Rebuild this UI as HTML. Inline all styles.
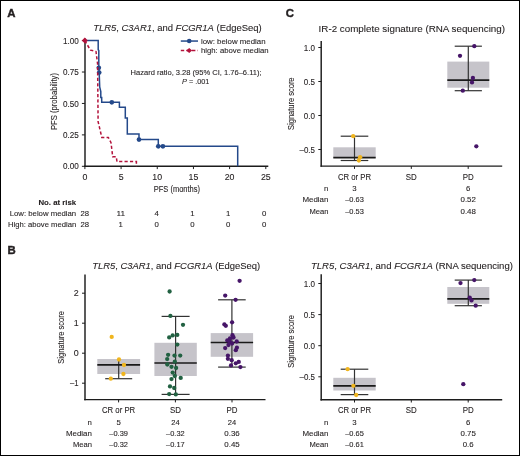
<!DOCTYPE html>
<html><head><meta charset="utf-8"><style>
html,body{margin:0;padding:0;background:#fff;}
body{width:520px;height:456px;overflow:hidden;position:relative;}
svg{display:block;position:absolute;left:0;top:0;will-change:transform;filter:blur(0.3px);}
.frame{position:absolute;left:0;top:0;width:518px;height:454px;border:1px solid #000;}
text{font-family:"Liberation Sans", sans-serif;fill:#231f20;stroke:#231f20;stroke-width:0.1px;}
</style></head><body>
<svg width="520" height="456" viewBox="0 0 520 456">
<rect x="0" y="0" width="520" height="456" fill="#fff"/>
<text x="7.2" y="16.6" font-size="11.4" font-weight="bold" fill="#000" stroke="#000" style="stroke-width:0.4px">A</text>
<text x="7.6" y="254.3" font-size="11.4" font-weight="bold" fill="#000" stroke="#000" style="stroke-width:0.4px">B</text>
<text x="285.8" y="17.2" font-size="11.4" font-weight="bold" fill="#000" stroke="#000" style="stroke-width:0.4px">C</text>
<text x="93.2" y="30.9" font-size="9.5" textLength="168.5" lengthAdjust="spacingAndGlyphs"><tspan font-style="italic">TLR5</tspan>, <tspan font-style="italic">C3AR1</tspan>, and <tspan font-style="italic">FCGR1A</tspan> (EdgeSeq)</text>
<line x1="85.0" y1="38.6" x2="85.0" y2="167.0" stroke="#1c1c1c" stroke-width="1.45"/>
<line x1="84.10000000000001" y1="166.3" x2="268.3" y2="166.3" stroke="#1c1c1c" stroke-width="1.4"/>
<line x1="81.9" y1="166.3" x2="84.9" y2="166.3" stroke="#1c1c1c" stroke-width="1.0"/>
<text x="78.9" y="169.4" font-size="8.9" text-anchor="end" textLength="15.8" lengthAdjust="spacingAndGlyphs">0.00</text>
<line x1="81.9" y1="134.875" x2="84.9" y2="134.875" stroke="#1c1c1c" stroke-width="1.0"/>
<text x="78.9" y="137.975" font-size="8.9" text-anchor="end" textLength="15.8" lengthAdjust="spacingAndGlyphs">0.25</text>
<line x1="81.9" y1="103.45000000000002" x2="84.9" y2="103.45000000000002" stroke="#1c1c1c" stroke-width="1.0"/>
<text x="78.9" y="106.55000000000001" font-size="8.9" text-anchor="end" textLength="15.8" lengthAdjust="spacingAndGlyphs">0.50</text>
<line x1="81.9" y1="72.025" x2="84.9" y2="72.025" stroke="#1c1c1c" stroke-width="1.0"/>
<text x="78.9" y="75.125" font-size="8.9" text-anchor="end" textLength="15.8" lengthAdjust="spacingAndGlyphs">0.75</text>
<line x1="81.9" y1="40.60000000000001" x2="84.9" y2="40.60000000000001" stroke="#1c1c1c" stroke-width="1.0"/>
<text x="78.9" y="43.70000000000001" font-size="8.9" text-anchor="end" textLength="15.8" lengthAdjust="spacingAndGlyphs">1.00</text>
<line x1="84.9" y1="166.3" x2="84.9" y2="169.10000000000002" stroke="#1c1c1c" stroke-width="1.0"/>
<text x="84.9" y="179.6" font-size="8.9" text-anchor="middle" textLength="4.9" lengthAdjust="spacingAndGlyphs">0</text>
<line x1="121.08000000000001" y1="166.3" x2="121.08000000000001" y2="169.10000000000002" stroke="#1c1c1c" stroke-width="1.0"/>
<text x="121.08000000000001" y="179.6" font-size="8.9" text-anchor="middle" textLength="4.9" lengthAdjust="spacingAndGlyphs">5</text>
<line x1="157.26" y1="166.3" x2="157.26" y2="169.10000000000002" stroke="#1c1c1c" stroke-width="1.0"/>
<text x="157.26" y="179.6" font-size="8.9" text-anchor="middle" textLength="9.8" lengthAdjust="spacingAndGlyphs">10</text>
<line x1="193.44" y1="166.3" x2="193.44" y2="169.10000000000002" stroke="#1c1c1c" stroke-width="1.0"/>
<text x="193.44" y="179.6" font-size="8.9" text-anchor="middle" textLength="9.8" lengthAdjust="spacingAndGlyphs">15</text>
<line x1="229.62" y1="166.3" x2="229.62" y2="169.10000000000002" stroke="#1c1c1c" stroke-width="1.0"/>
<text x="229.62" y="179.6" font-size="8.9" text-anchor="middle" textLength="9.8" lengthAdjust="spacingAndGlyphs">20</text>
<line x1="265.8" y1="166.3" x2="265.8" y2="169.10000000000002" stroke="#1c1c1c" stroke-width="1.0"/>
<text x="265.8" y="179.6" font-size="8.9" text-anchor="middle" textLength="9.8" lengthAdjust="spacingAndGlyphs">25</text>
<text x="153.8" y="192" font-size="8.8" textLength="46.2" lengthAdjust="spacingAndGlyphs">PFS (months)</text>
<text x="0" y="0" font-size="8.9" textLength="57" lengthAdjust="spacingAndGlyphs" transform="translate(57.0,130.0) rotate(-90)">PFS (probability)</text>
<path d="M84.80,40.60 L98.20,40.60 L98.20,49.80 L98.80,50.50 L98.80,67.80 L99.20,72.60 L99.70,86.80 L100.80,91.50 L100.80,97.50 L101.70,97.50 L101.70,102.30 L119.40,102.30 L119.40,107.20 L125.30,107.20 L125.30,118.00 L127.30,118.00 L127.30,133.90 L139.00,133.90 L139.00,139.60 L158.30,139.60 L158.30,146.30 L237.70,146.30 L237.70,166.30" fill="none" stroke="#24498a" stroke-width="1.5"/>
<circle cx="98.8" cy="67.8" r="2.35" fill="#24498a"/>
<circle cx="99.2" cy="72.6" r="2.35" fill="#24498a"/>
<circle cx="111.8" cy="102.3" r="2.35" fill="#24498a"/>
<circle cx="139" cy="139.6" r="2.35" fill="#24498a"/>
<circle cx="158.3" cy="146.3" r="2.35" fill="#24498a"/>
<circle cx="162.9" cy="146.3" r="2.35" fill="#24498a"/>
<path d="M84.80,40.60 L90.50,50.20 L96.00,51.50 L97.60,64.00 L98.10,121.60 L101.80,137.40 L108.30,137.40 L111.00,142.60 L112.70,156.70 L116.20,156.70 L117.00,161.60 L136.40,161.60 L136.40,166.30" fill="none" stroke="#b3123b" stroke-width="1.5" stroke-dasharray="3.2,2.2"/>
<path d="M81.8,40.6 L84.8,37.6 L87.8,40.6 L84.8,43.6 Z" fill="#b3123b"/>
<line x1="180.8" y1="41.05" x2="198" y2="41.05" stroke="#24498a" stroke-width="1.5"/>
<circle cx="189.2" cy="41.05" r="2.3" fill="#24498a"/>
<line x1="180.8" y1="50.6" x2="198" y2="50.6" stroke="#b3123b" stroke-width="1.5" stroke-dasharray="3.4,2.2"/>
<path d="M186.2,50.6 L189.2,48.1 L192.2,50.6 L189.2,53.1 Z" fill="#b3123b"/>
<text x="201.0" y="43.5" font-size="8.0" textLength="64.5" lengthAdjust="spacingAndGlyphs">low: below median</text>
<text x="201.0" y="53.1" font-size="8.0" textLength="67.5" lengthAdjust="spacingAndGlyphs">high: above median</text>
<text x="130.6" y="75.1" font-size="8.0" textLength="131" lengthAdjust="spacingAndGlyphs">Hazard ratio, 3.28 (95% CI, 1.76–6.11);</text>
<text x="182.0" y="83.6" font-size="8.0" textLength="27.4" lengthAdjust="spacingAndGlyphs"><tspan font-style="italic">P</tspan> = .001</text>
<text x="76.2" y="204.6" font-size="8.0" text-anchor="end" font-weight="bold" textLength="37.8" lengthAdjust="spacingAndGlyphs">No. at risk</text>
<text x="76.2" y="215.9" font-size="7.8" text-anchor="end" textLength="66.5" lengthAdjust="spacingAndGlyphs">Low: below median</text>
<text x="76.2" y="227.1" font-size="7.8" text-anchor="end" textLength="68.2" lengthAdjust="spacingAndGlyphs">High: above median</text>
<text x="84.85" y="215.9" font-size="7.8" text-anchor="middle" textLength="8.6" lengthAdjust="spacingAndGlyphs">28</text>
<text x="120.69999999999999" y="215.9" font-size="7.8" text-anchor="middle" textLength="8.6" lengthAdjust="spacingAndGlyphs">11</text>
<text x="156.55" y="215.9" font-size="7.8" text-anchor="middle">4</text>
<text x="192.4" y="215.9" font-size="7.8" text-anchor="middle">1</text>
<text x="228.25" y="215.9" font-size="7.8" text-anchor="middle">1</text>
<text x="264.1" y="215.9" font-size="7.8" text-anchor="middle">0</text>
<text x="84.85" y="227.1" font-size="7.8" text-anchor="middle" textLength="8.6" lengthAdjust="spacingAndGlyphs">28</text>
<text x="120.69999999999999" y="227.1" font-size="7.8" text-anchor="middle">1</text>
<text x="156.55" y="227.1" font-size="7.8" text-anchor="middle">0</text>
<text x="192.4" y="227.1" font-size="7.8" text-anchor="middle">0</text>
<text x="228.25" y="227.1" font-size="7.8" text-anchor="middle">0</text>
<text x="264.1" y="227.1" font-size="7.8" text-anchor="middle">0</text>
<text x="92.2" y="269.2" font-size="9.5" textLength="168" lengthAdjust="spacingAndGlyphs"><tspan font-style="italic">TLR5</tspan>, <tspan font-style="italic">C3AR1</tspan>, and <tspan font-style="italic">FCGR1A</tspan> (EdgeSeq)</text>
<line x1="85.0" y1="274.6" x2="85.0" y2="400.3" stroke="#1c1c1c" stroke-width="1.45"/>
<line x1="84.2" y1="399.6" x2="265.5" y2="399.6" stroke="#1c1c1c" stroke-width="1.4"/>
<line x1="82.0" y1="293.2" x2="85.0" y2="293.2" stroke="#1c1c1c" stroke-width="1.0"/>
<text x="78.6" y="296.3" font-size="8.9" text-anchor="end">2</text>
<line x1="82.0" y1="323.2" x2="85.0" y2="323.2" stroke="#1c1c1c" stroke-width="1.0"/>
<text x="78.6" y="326.3" font-size="8.9" text-anchor="end">1</text>
<line x1="82.0" y1="353.2" x2="85.0" y2="353.2" stroke="#1c1c1c" stroke-width="1.0"/>
<text x="78.6" y="356.3" font-size="8.9" text-anchor="end">0</text>
<line x1="82.0" y1="383.2" x2="85.0" y2="383.2" stroke="#1c1c1c" stroke-width="1.0"/>
<text x="78.6" y="386.3" font-size="8.9" text-anchor="end" textLength="8.6" lengthAdjust="spacingAndGlyphs">–1</text>
<text x="0" y="0" font-size="8.9" textLength="52.5" lengthAdjust="spacingAndGlyphs" transform="translate(64.0,337.4) rotate(-90)" text-anchor="middle">Signature score</text>
<line x1="118.6" y1="399.6" x2="118.6" y2="402.4" stroke="#1c1c1c" stroke-width="1.0"/>
<text x="118.6" y="413.1" font-size="8.4" text-anchor="middle" textLength="33.2" lengthAdjust="spacingAndGlyphs">CR or PR</text>
<line x1="175.4" y1="399.6" x2="175.4" y2="402.4" stroke="#1c1c1c" stroke-width="1.0"/>
<text x="175.4" y="413.1" font-size="8.4" text-anchor="middle" textLength="11" lengthAdjust="spacingAndGlyphs">SD</text>
<line x1="232.0" y1="399.6" x2="232.0" y2="402.4" stroke="#1c1c1c" stroke-width="1.0"/>
<text x="232.0" y="413.1" font-size="8.4" text-anchor="middle" textLength="11" lengthAdjust="spacingAndGlyphs">PD</text>
<text x="91.9" y="424.6" font-size="7.8" text-anchor="end">n</text>
<text x="91.9" y="435.9" font-size="7.8" text-anchor="end" textLength="26" lengthAdjust="spacingAndGlyphs">Median</text>
<text x="91.9" y="446.8" font-size="7.8" text-anchor="end" textLength="19" lengthAdjust="spacingAndGlyphs">Mean</text>
<text x="118.6" y="424.6" font-size="7.8" text-anchor="middle">5</text>
<text x="175.4" y="424.6" font-size="7.8" text-anchor="middle" textLength="8.4" lengthAdjust="spacingAndGlyphs">24</text>
<text x="232.0" y="424.6" font-size="7.8" text-anchor="middle" textLength="8.4" lengthAdjust="spacingAndGlyphs">24</text>
<text x="118.6" y="435.9" font-size="7.8" text-anchor="middle" textLength="18.6" lengthAdjust="spacingAndGlyphs">–0.39</text>
<text x="175.4" y="435.9" font-size="7.8" text-anchor="middle" textLength="18.6" lengthAdjust="spacingAndGlyphs">–0.32</text>
<text x="232.0" y="435.9" font-size="7.8" text-anchor="middle" textLength="15.4" lengthAdjust="spacingAndGlyphs">0.36</text>
<text x="118.6" y="446.8" font-size="7.8" text-anchor="middle" textLength="18.6" lengthAdjust="spacingAndGlyphs">–0.32</text>
<text x="175.4" y="446.8" font-size="7.8" text-anchor="middle" textLength="18.6" lengthAdjust="spacingAndGlyphs">–0.17</text>
<text x="232.0" y="446.8" font-size="7.8" text-anchor="middle" textLength="15.4" lengthAdjust="spacingAndGlyphs">0.45</text>
<rect x="97.30000000000001" y="359" width="42.8" height="15" fill="#c6c4ca"/>
<line x1="118.7" y1="359" x2="118.7" y2="378.7" stroke="#333333" stroke-width="1.2"/>
<line x1="105.2" y1="378.7" x2="132.2" y2="378.7" stroke="#333333" stroke-width="1.2"/>
<line x1="97.30000000000001" y1="364.8" x2="140.1" y2="364.8" stroke="#1a1a1a" stroke-width="1.7"/>
<circle cx="111.7" cy="336.9" r="2.15" fill="#f0b51e"/>
<circle cx="119" cy="359.5" r="2.15" fill="#f0b51e"/>
<circle cx="124" cy="365" r="2.15" fill="#f0b51e"/>
<circle cx="123.4" cy="374" r="2.15" fill="#f0b51e"/>
<circle cx="110.8" cy="378.7" r="2.15" fill="#f0b51e"/>
<rect x="154.4" y="342.8" width="42.4" height="33.19999999999999" fill="#c6c4ca"/>
<line x1="175.6" y1="316.4" x2="175.6" y2="394.4" stroke="#333333" stroke-width="1.2"/>
<line x1="161.6" y1="316.4" x2="189.6" y2="316.4" stroke="#333333" stroke-width="1.2"/>
<line x1="161.6" y1="394.4" x2="189.6" y2="394.4" stroke="#333333" stroke-width="1.2"/>
<line x1="154.4" y1="363" x2="196.79999999999998" y2="363" stroke="#1a1a1a" stroke-width="1.7"/>
<circle cx="169.6" cy="291.5" r="2.15" fill="#226142"/>
<circle cx="170.4" cy="315.9" r="2.15" fill="#226142"/>
<circle cx="183" cy="324.8" r="2.15" fill="#226142"/>
<circle cx="169.2" cy="337.4" r="2.15" fill="#226142"/>
<circle cx="172.7" cy="335.4" r="2.15" fill="#226142"/>
<circle cx="177.3" cy="334.9" r="2.15" fill="#226142"/>
<circle cx="177.3" cy="344.6" r="2.15" fill="#226142"/>
<circle cx="168.1" cy="354.8" r="2.15" fill="#226142"/>
<circle cx="174.5" cy="355.6" r="2.15" fill="#226142"/>
<circle cx="180.2" cy="355.6" r="2.15" fill="#226142"/>
<circle cx="167.2" cy="359.1" r="2.15" fill="#226142"/>
<circle cx="174.8" cy="361.7" r="2.15" fill="#226142"/>
<circle cx="167.3" cy="364.5" r="2.15" fill="#226142"/>
<circle cx="171.5" cy="366.8" r="2.15" fill="#226142"/>
<circle cx="176.1" cy="368" r="2.15" fill="#226142"/>
<circle cx="172.7" cy="372.6" r="2.15" fill="#226142"/>
<circle cx="174.8" cy="376" r="2.15" fill="#226142"/>
<circle cx="180.7" cy="377.9" r="2.15" fill="#226142"/>
<circle cx="171.5" cy="379.1" r="2.15" fill="#226142"/>
<circle cx="170" cy="386.4" r="2.15" fill="#226142"/>
<circle cx="174.2" cy="388" r="2.15" fill="#226142"/>
<circle cx="169.2" cy="394.1" r="2.15" fill="#226142"/>
<circle cx="175.8" cy="394.4" r="2.15" fill="#226142"/>
<rect x="210.70000000000002" y="333.1" width="42.4" height="23.69999999999999" fill="#c6c4ca"/>
<line x1="231.9" y1="299.8" x2="231.9" y2="367.1" stroke="#333333" stroke-width="1.2"/>
<line x1="218.1" y1="299.8" x2="245.70000000000002" y2="299.8" stroke="#333333" stroke-width="1.2"/>
<line x1="218.1" y1="367.1" x2="245.70000000000002" y2="367.1" stroke="#333333" stroke-width="1.2"/>
<line x1="210.70000000000002" y1="342.5" x2="253.1" y2="342.5" stroke="#1a1a1a" stroke-width="1.7"/>
<circle cx="239.6" cy="280.8" r="2.15" fill="#461568"/>
<circle cx="225.2" cy="295.6" r="2.15" fill="#461568"/>
<circle cx="235.6" cy="299.8" r="2.15" fill="#461568"/>
<circle cx="232.1" cy="322.3" r="2.15" fill="#461568"/>
<circle cx="224.4" cy="324.4" r="2.15" fill="#461568"/>
<circle cx="225.8" cy="325.8" r="2.15" fill="#461568"/>
<circle cx="232.5" cy="335.2" r="2.15" fill="#461568"/>
<circle cx="230" cy="338.3" r="2.15" fill="#461568"/>
<circle cx="227.3" cy="340.4" r="2.15" fill="#461568"/>
<circle cx="229.6" cy="341.5" r="2.15" fill="#461568"/>
<circle cx="236.7" cy="341.5" r="2.15" fill="#461568"/>
<circle cx="232.1" cy="343.5" r="2.15" fill="#461568"/>
<circle cx="225.2" cy="348.1" r="2.15" fill="#461568"/>
<circle cx="236.9" cy="347.7" r="2.15" fill="#461568"/>
<circle cx="235.8" cy="350.2" r="2.15" fill="#461568"/>
<circle cx="227.9" cy="355.6" r="2.15" fill="#461568"/>
<circle cx="227.9" cy="358.8" r="2.15" fill="#461568"/>
<circle cx="231.7" cy="360.2" r="2.15" fill="#461568"/>
<circle cx="235.8" cy="363.3" r="2.15" fill="#461568"/>
<circle cx="238.75" cy="361.9" r="2.15" fill="#461568"/>
<circle cx="231" cy="365.4" r="2.15" fill="#461568"/>
<circle cx="240.4" cy="367.1" r="2.15" fill="#461568"/>
<circle cx="233.5" cy="337.5" r="2.15" fill="#461568"/>
<circle cx="228.5" cy="345" r="2.15" fill="#461568"/>
<text x="318.6" y="31.7" font-size="9.5" textLength="186.4" lengthAdjust="spacingAndGlyphs">IR-2 complete signature (RNA sequencing)</text>
<line x1="321.2" y1="41" x2="321.2" y2="166.8" stroke="#1c1c1c" stroke-width="1.45"/>
<line x1="320.5" y1="166.1" x2="502.2" y2="166.1" stroke="#1c1c1c" stroke-width="1.4"/>
<line x1="318.3" y1="47.5" x2="321.3" y2="47.5" stroke="#1c1c1c" stroke-width="1.0"/>
<text x="314.9" y="50.6" font-size="8.9" text-anchor="end" textLength="11.2" lengthAdjust="spacingAndGlyphs">1.0</text>
<line x1="318.3" y1="81.5" x2="321.3" y2="81.5" stroke="#1c1c1c" stroke-width="1.0"/>
<text x="314.9" y="84.6" font-size="8.9" text-anchor="end" textLength="11.2" lengthAdjust="spacingAndGlyphs">0.5</text>
<line x1="318.3" y1="115.5" x2="321.3" y2="115.5" stroke="#1c1c1c" stroke-width="1.0"/>
<text x="314.9" y="118.6" font-size="8.9" text-anchor="end" textLength="11.2" lengthAdjust="spacingAndGlyphs">0.0</text>
<line x1="318.3" y1="149.5" x2="321.3" y2="149.5" stroke="#1c1c1c" stroke-width="1.0"/>
<text x="314.9" y="152.6" font-size="8.9" text-anchor="end" textLength="15.4" lengthAdjust="spacingAndGlyphs">–0.5</text>
<text x="0" y="0" font-size="8.9" textLength="52.5" lengthAdjust="spacingAndGlyphs" transform="translate(293.9,103.7) rotate(-90)" text-anchor="middle">Signature score</text>
<line x1="354.5" y1="166.1" x2="354.5" y2="168.9" stroke="#1c1c1c" stroke-width="1.0"/>
<text x="354.5" y="179.6" font-size="8.4" text-anchor="middle" textLength="33.2" lengthAdjust="spacingAndGlyphs">CR or PR</text>
<line x1="411.3" y1="166.1" x2="411.3" y2="168.9" stroke="#1c1c1c" stroke-width="1.0"/>
<text x="411.3" y="179.6" font-size="8.4" text-anchor="middle" textLength="11" lengthAdjust="spacingAndGlyphs">SD</text>
<line x1="468.2" y1="166.1" x2="468.2" y2="168.9" stroke="#1c1c1c" stroke-width="1.0"/>
<text x="468.2" y="179.6" font-size="8.4" text-anchor="middle" textLength="11" lengthAdjust="spacingAndGlyphs">PD</text>
<text x="328.4" y="191.1" font-size="7.8" text-anchor="end">n</text>
<text x="328.4" y="202.3" font-size="7.8" text-anchor="end" textLength="26" lengthAdjust="spacingAndGlyphs">Median</text>
<text x="328.4" y="213.5" font-size="7.8" text-anchor="end" textLength="19" lengthAdjust="spacingAndGlyphs">Mean</text>
<text x="354.5" y="191.1" font-size="7.8" text-anchor="middle">3</text>
<text x="468.2" y="191.1" font-size="7.8" text-anchor="middle">6</text>
<text x="354.5" y="202.3" font-size="7.8" text-anchor="middle" textLength="18.6" lengthAdjust="spacingAndGlyphs">–0.63</text>
<text x="468.2" y="202.3" font-size="7.8" text-anchor="middle" textLength="15.4" lengthAdjust="spacingAndGlyphs">0.52</text>
<text x="354.5" y="213.5" font-size="7.8" text-anchor="middle" textLength="18.6" lengthAdjust="spacingAndGlyphs">–0.53</text>
<text x="468.2" y="213.5" font-size="7.8" text-anchor="middle" textLength="15.4" lengthAdjust="spacingAndGlyphs">0.48</text>
<rect x="333.3" y="147.3" width="42.4" height="10.399999999999977" fill="#c6c4ca"/>
<line x1="354.5" y1="136.2" x2="354.5" y2="160.5" stroke="#333333" stroke-width="1.2"/>
<line x1="340.7" y1="136.2" x2="368.3" y2="136.2" stroke="#333333" stroke-width="1.2"/>
<line x1="340.7" y1="160.5" x2="368.3" y2="160.5" stroke="#333333" stroke-width="1.2"/>
<line x1="333.3" y1="157.7" x2="375.7" y2="157.7" stroke="#1a1a1a" stroke-width="1.7"/>
<circle cx="353.2" cy="136.2" r="2.15" fill="#f0b51e"/>
<circle cx="360.1" cy="157.2" r="2.15" fill="#f0b51e"/>
<circle cx="358.9" cy="160.5" r="2.15" fill="#f0b51e"/>
<rect x="447.3" y="61.6" width="42" height="26.1" fill="#c6c4ca"/>
<line x1="468.3" y1="46.2" x2="468.3" y2="90.7" stroke="#333333" stroke-width="1.2"/>
<line x1="454.7" y1="46.2" x2="481.90000000000003" y2="46.2" stroke="#333333" stroke-width="1.2"/>
<line x1="454.7" y1="90.7" x2="481.90000000000003" y2="90.7" stroke="#333333" stroke-width="1.2"/>
<line x1="447.3" y1="80.1" x2="489.3" y2="80.1" stroke="#1a1a1a" stroke-width="1.7"/>
<circle cx="474.3" cy="46.2" r="2.15" fill="#461568"/>
<circle cx="460" cy="55.8" r="2.15" fill="#461568"/>
<circle cx="472.9" cy="78" r="2.15" fill="#461568"/>
<circle cx="472" cy="82.4" r="2.15" fill="#461568"/>
<circle cx="462.8" cy="90.7" r="2.15" fill="#461568"/>
<circle cx="476.3" cy="146.3" r="2.15" fill="#461568"/>
<text x="310.9" y="268.7" font-size="9.5" textLength="202" lengthAdjust="spacingAndGlyphs"><tspan font-style="italic">TLR5</tspan>, <tspan font-style="italic">C3AR1</tspan>, and <tspan font-style="italic">FCGR1A</tspan> (RNA sequencing)</text>
<line x1="321.2" y1="274.2" x2="321.2" y2="400.4" stroke="#1c1c1c" stroke-width="1.45"/>
<line x1="320.5" y1="399.7" x2="502.2" y2="399.7" stroke="#1c1c1c" stroke-width="1.4"/>
<line x1="318.3" y1="283.5" x2="321.3" y2="283.5" stroke="#1c1c1c" stroke-width="1.0"/>
<text x="314.9" y="286.6" font-size="8.9" text-anchor="end" textLength="11.2" lengthAdjust="spacingAndGlyphs">1.0</text>
<line x1="318.3" y1="314.59999999999997" x2="321.3" y2="314.59999999999997" stroke="#1c1c1c" stroke-width="1.0"/>
<text x="314.9" y="317.7" font-size="8.9" text-anchor="end" textLength="11.2" lengthAdjust="spacingAndGlyphs">0.5</text>
<line x1="318.3" y1="345.7" x2="321.3" y2="345.7" stroke="#1c1c1c" stroke-width="1.0"/>
<text x="314.9" y="348.8" font-size="8.9" text-anchor="end" textLength="11.2" lengthAdjust="spacingAndGlyphs">0.0</text>
<line x1="318.3" y1="376.8" x2="321.3" y2="376.8" stroke="#1c1c1c" stroke-width="1.0"/>
<text x="314.9" y="379.90000000000003" font-size="8.9" text-anchor="end" textLength="15.4" lengthAdjust="spacingAndGlyphs">–0.5</text>
<text x="0" y="0" font-size="8.9" textLength="52.5" lengthAdjust="spacingAndGlyphs" transform="translate(293.9,341.4) rotate(-90)" text-anchor="middle">Signature score</text>
<line x1="354.5" y1="399.7" x2="354.5" y2="402.5" stroke="#1c1c1c" stroke-width="1.0"/>
<text x="354.5" y="413.1" font-size="8.4" text-anchor="middle" textLength="33.2" lengthAdjust="spacingAndGlyphs">CR or PR</text>
<line x1="411.3" y1="399.7" x2="411.3" y2="402.5" stroke="#1c1c1c" stroke-width="1.0"/>
<text x="411.3" y="413.1" font-size="8.4" text-anchor="middle" textLength="11" lengthAdjust="spacingAndGlyphs">SD</text>
<line x1="468.2" y1="399.7" x2="468.2" y2="402.5" stroke="#1c1c1c" stroke-width="1.0"/>
<text x="468.2" y="413.1" font-size="8.4" text-anchor="middle" textLength="11" lengthAdjust="spacingAndGlyphs">PD</text>
<text x="328.4" y="424.6" font-size="7.8" text-anchor="end">n</text>
<text x="328.4" y="435.7" font-size="7.8" text-anchor="end" textLength="26" lengthAdjust="spacingAndGlyphs">Median</text>
<text x="328.4" y="446.6" font-size="7.8" text-anchor="end" textLength="19" lengthAdjust="spacingAndGlyphs">Mean</text>
<text x="354.5" y="424.6" font-size="7.8" text-anchor="middle">3</text>
<text x="468.2" y="424.6" font-size="7.8" text-anchor="middle">6</text>
<text x="354.5" y="435.7" font-size="7.8" text-anchor="middle" textLength="18.6" lengthAdjust="spacingAndGlyphs">–0.65</text>
<text x="468.2" y="435.7" font-size="7.8" text-anchor="middle" textLength="15.4" lengthAdjust="spacingAndGlyphs">0.75</text>
<text x="354.5" y="446.6" font-size="7.8" text-anchor="middle" textLength="18.6" lengthAdjust="spacingAndGlyphs">–0.61</text>
<text x="468.2" y="446.6" font-size="7.8" text-anchor="middle">0.6</text>
<rect x="333.3" y="377.8" width="42.4" height="12.699999999999989" fill="#c6c4ca"/>
<line x1="354.5" y1="369.2" x2="354.5" y2="394.6" stroke="#333333" stroke-width="1.2"/>
<line x1="340.7" y1="369.2" x2="368.3" y2="369.2" stroke="#333333" stroke-width="1.2"/>
<line x1="340.7" y1="394.6" x2="368.3" y2="394.6" stroke="#333333" stroke-width="1.2"/>
<line x1="333.3" y1="385.8" x2="375.7" y2="385.8" stroke="#1a1a1a" stroke-width="1.7"/>
<circle cx="347.6" cy="369.2" r="2.15" fill="#f0b51e"/>
<circle cx="353.4" cy="385.8" r="2.15" fill="#f0b51e"/>
<circle cx="356.2" cy="395" r="2.15" fill="#f0b51e"/>
<rect x="447.3" y="287" width="42" height="16.80000000000001" fill="#c6c4ca"/>
<line x1="468.3" y1="280.1" x2="468.3" y2="305.7" stroke="#333333" stroke-width="1.2"/>
<line x1="454.7" y1="280.1" x2="481.90000000000003" y2="280.1" stroke="#333333" stroke-width="1.2"/>
<line x1="454.7" y1="305.7" x2="481.90000000000003" y2="305.7" stroke="#333333" stroke-width="1.2"/>
<line x1="447.3" y1="298.8" x2="489.3" y2="298.8" stroke="#1a1a1a" stroke-width="1.7"/>
<circle cx="474.3" cy="280.1" r="2.15" fill="#461568"/>
<circle cx="460.5" cy="283.1" r="2.15" fill="#461568"/>
<circle cx="469.7" cy="297.6" r="2.15" fill="#461568"/>
<circle cx="471.5" cy="300.4" r="2.15" fill="#461568"/>
<circle cx="475.7" cy="305.7" r="2.15" fill="#461568"/>
<circle cx="463.3" cy="384.2" r="2.15" fill="#461568"/>
</svg>
<div class="frame"></div>
</body></html>
